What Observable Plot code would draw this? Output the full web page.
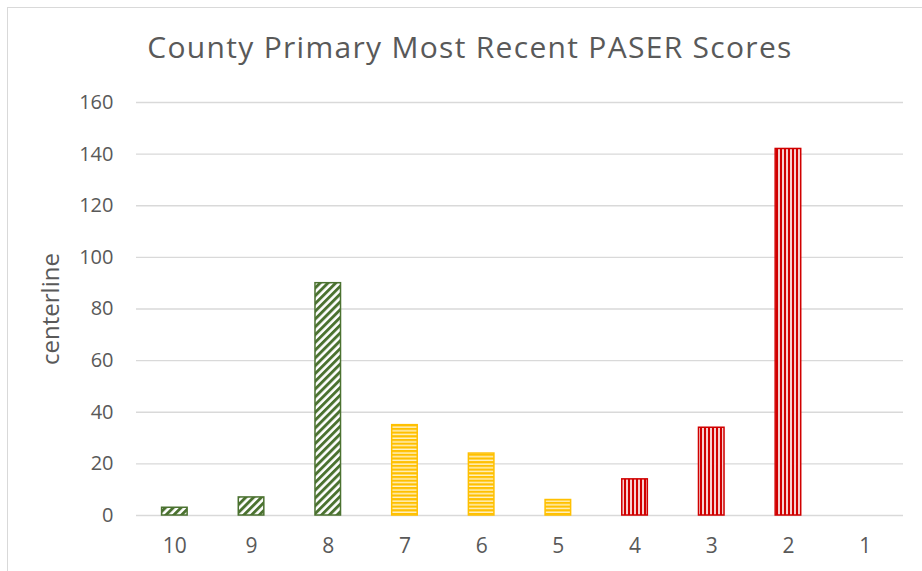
<!DOCTYPE html>
<html><head><meta charset="utf-8">
<script src="https://cdn.jsdelivr.net/npm/d3@7"></script>
<script src="https://cdn.jsdelivr.net/npm/@observablehq/plot@0.6"></script>
<style>
body{margin:0;background:#fff;}
#wrap{position:relative;width:922px;height:571px;overflow:hidden;font-family:"Open Sans",sans-serif;background:#fff;}
#frame{position:absolute;left:7px;top:7px;width:940px;height:590px;border:1.5px solid #d9d9d9;}
#title{position:absolute;left:0;top:27px;width:940px;text-align:center;font-size:30px;letter-spacing:1.3px;line-height:1.362;color:#595959;white-space:nowrap;}
#chart{position:absolute;left:0;top:80px;}
</style></head>
<body>
<div id="wrap"><div id="frame"></div><div id="title">County Primary Most Recent PASER Scores</div><div id="chart"></div></div>
<script>
const scores = ["10","9","8","7","6","5","4","3","2","1"];
const counts = [3, 7, 90, 35, 24, 6, 14, 34, 142, 0];
const groups = ["good","good","good","fair","fair","fair","poor","poor","poor","poor"];
const yTicks = [0,20,40,60,80,100,120,140,160];
const yLabel = "centerline";

const colors = {good:"#4b7230", fair:"#ffc000", poor:"#d00000"};
const fills = {good:"url(#pat-good)", fair:"url(#pat-fair)", poor:"url(#pat-poor)"};
const data = scores.map((s,i)=>({score:s, count:counts[i], group:groups[i]}));

const chart = Plot.plot({
  width: 922,
  height: 491,
  marginLeft: 136,
  marginRight: 19,
  marginTop: 22,
  marginBottom: 56,
  style: {fontFamily: '"Open Sans", sans-serif', color: "#595959", background: "transparent"},
  x: {domain: scores, paddingInner: 0.667, paddingOuter: 0.3335, round: false, label: null},
  y: {domain: [0,160], label: null},
  color: {type: "identity"},
  marks: [
    Plot.gridY(yTicks, {stroke: "#d9d9d9", strokeOpacity: 1, strokeWidth: 1.4}),
    Plot.barY(data.filter(d=>d.count>0), {x: "score", y: "count", fill: d=>fills[d.group], stroke: d=>colors[d.group], strokeWidth: 1.5}),
    Plot.axisY(yTicks, {tickSize: 0, tickPadding: 23, fontSize: 20, label: null, fill: "#595959"}),
    Plot.axisX({tickSize: 0, tickPadding: 23, fontSize: 21, label: null, fill: "#595959"}),
    Plot.text([yLabel], {frameAnchor: "left", textAnchor: "middle", dx: -85, rotate: -90, fontSize: 24, fill: "#595959"})
  ]
});

// define hatch patterns
const ns = "http://www.w3.org/2000/svg";
const defs = document.createElementNS(ns, "defs");
defs.innerHTML = `
<pattern id="pat-good" patternUnits="userSpaceOnUse" width="5.5" height="5.5" patternTransform="rotate(45)">
  <rect width="5.5" height="5.5" fill="#ffffff"/>
  <rect width="2.9" height="5.5" fill="${colors.good}"/>
</pattern>
<pattern id="pat-fair" patternUnits="userSpaceOnUse" width="6" height="3.7">
  <rect width="6" height="3.7" fill="#fff3cc"/>
  <rect width="6" height="2.3" fill="${colors.fair}"/>
</pattern>
<pattern id="pat-poor" patternUnits="userSpaceOnUse" width="4" height="6">
  <rect width="4" height="6" fill="#f7d0d0"/>
  <rect width="2" height="6" fill="${colors.poor}"/>
</pattern>`;
chart.insertBefore(defs, chart.firstChild);
document.getElementById("chart").appendChild(chart);
</script>
</body></html>
